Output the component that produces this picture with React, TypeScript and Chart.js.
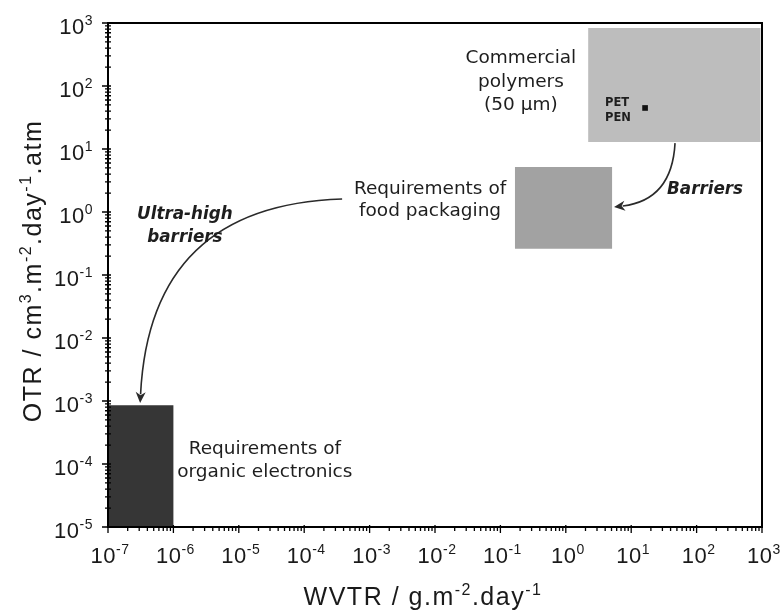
import React, { useEffect, useRef } from 'react';
import { Chart, registerables } from 'chart.js';

Chart.register(...registerables);

// ---- axis ticks (decade exponents) ----
const xExponents = [-7, -6, -5, -4, -3, -2, -1, 0, 1, 2, 3];
const yExponents = [-5, -4, -3, -2, -1, 0, 1, 2, 3];

// ---- axis titles (text, superscript) segments ----
const xTitle = [
  ['WVTR / g.m', false],
  ['-2', true],
  ['.day', false],
  ['-1', true],
];
const yTitle = [
  ['OTR / cm', false],
  ['3', true],
  ['.m', false],
  ['-2', true],
  ['.day', false],
  ['-1', true],
  ['.atm', false],
];

// ---- regions: [xMin, xMax, yMin, yMax] in data units ----
const commercialPolymers = [2.2, 950, 12.9, 835];
const foodPackaging = [0.167, 5.1, 0.26, 5.2];
const organicElectronics = [1e-7, 1e-6, 1e-5, 8.6e-4];

// ---- PET / PEN point ----
const petPenX = [16.3];
const petPenY = [44.8];

// ---- arrows: start, control, end (data units) ----
const barriersArrow = [
  [46.8, 12.4],
  [42, 1.55],
  [5.46, 1.2],
];
const ultraArrow = [
  [3.8e-4, 1.61],
  [4.4e-7, 1.29],
  [3.1e-7, 9.3e-4],
];

// ---- text labels ----
const commercialText = ['Commercial', 'polymers', '(50 \u00b5m)'];
const petPenText = ['PET', 'PEN'];
const foodText = ['Requirements of', 'food packaging'];
const barriersText = ['Barriers'];
const ultraText = ['Ultra-high', 'barriers'];
const organicText = ['Requirements of', 'organic electronics'];

const rectPoly = (r: number[]) => [
  { x: r[0], y: r[2] },
  { x: r[1], y: r[2] },
  { x: r[1], y: r[3] },
  { x: r[0], y: r[3] },
  { x: r[0], y: r[2] },
];

const ANNOT_FONT = '"DejaVu Sans", Verdana, sans-serif';
const AXIS_FONT = '"Liberation Sans", Arial, sans-serif';

const annotations = [
  { lines: commercialText, x: 0.206, y: 116, align: 'center', font: `18.5px ${ANNOT_FONT}`, lh: 23.5 },
  { lines: petPenText, x: 3.98, y: 40.8, align: 'left', font: `bold 11.5px ${ANNOT_FONT}`, lh: 15 },
  { lines: foodText, x: 8.4e-3, y: 1.55, align: 'center', font: `18.5px ${ANNOT_FONT}`, lh: 22 },
  { lines: barriersText, x: 35.3, y: 2.23, align: 'left', font: `italic bold 16.8px ${ANNOT_FONT}`, lh: 20 },
  { lines: ultraText, x: 1.5e-6, y: 0.589, align: 'center', font: `italic bold 16.8px ${ANNOT_FONT}`, lh: 23 },
  { lines: organicText, x: 2.5e-5, y: 1.14e-4, align: 'center', font: `18.5px ${ANNOT_FONT}`, lh: 23 },
];

const arrows = [barriersArrow, ultraArrow];

// draws text made of normal / superscript segments
function drawRich(
  ctx: CanvasRenderingContext2D,
  segs: any[],
  x: number,
  y: number,
  align: 'left' | 'center' | 'right',
  mainSize: number,
  supSize: number,
  rise: number,
  spacing: number
) {
  const fonts = segs.map((s) => `${s[1] ? supSize : mainSize}px ${AXIS_FONT}`);
  (ctx as any).letterSpacing = `${spacing}px`;
  const widths = segs.map((s, i) => {
    ctx.font = fonts[i];
    return ctx.measureText(s[0]).width;
  });
  const total = widths.reduce((a, b) => a + b, 0);
  let cx = align === 'left' ? x : align === 'center' ? x - total / 2 : x - total;
  ctx.textAlign = 'left';
  ctx.textBaseline = 'alphabetic';
  segs.forEach((s, i) => {
    ctx.font = fonts[i];
    ctx.fillText(s[0], cx, s[1] ? y - rise : y);
    cx += widths[i];
  });
  (ctx as any).letterSpacing = '0px';
}

const decorPlugin = {
  id: 'decor',
  afterDatasetsDraw(chart: any) {
    const { ctx, scales } = chart;
    const xs = scales.x;
    const ys = scales.y;
    ctx.save();
    // arrows
    arrows.forEach((a) => {
      const p = a.map(([vx, vy]) => [xs.getPixelForValue(vx), ys.getPixelForValue(vy)]);
      const ang = Math.atan2(p[2][1] - p[1][1], p[2][0] - p[1][0]);
      const headLen = 11;
      const headW = 5;
      const bx = p[2][0] - Math.cos(ang) * headLen * 0.8;
      const by = p[2][1] - Math.sin(ang) * headLen * 0.8;
      ctx.strokeStyle = '#2a2a2a';
      ctx.lineWidth = 1.6;
      ctx.beginPath();
      ctx.moveTo(p[0][0], p[0][1]);
      ctx.quadraticCurveTo(p[1][0], p[1][1], bx, by);
      ctx.stroke();
      ctx.fillStyle = '#2a2a2a';
      ctx.beginPath();
      ctx.moveTo(p[2][0], p[2][1]);
      ctx.lineTo(
        p[2][0] - Math.cos(ang) * headLen - Math.sin(ang) * headW,
        p[2][1] - Math.sin(ang) * headLen + Math.cos(ang) * headW
      );
      ctx.lineTo(p[2][0] - Math.cos(ang) * headLen * 0.7, p[2][1] - Math.sin(ang) * headLen * 0.7);
      ctx.lineTo(
        p[2][0] - Math.cos(ang) * headLen + Math.sin(ang) * headW,
        p[2][1] - Math.sin(ang) * headLen - Math.cos(ang) * headW
      );
      ctx.closePath();
      ctx.fill();
    });
    // texts
    annotations.forEach((t) => {
      const cx = xs.getPixelForValue(t.x);
      const cy = ys.getPixelForValue(t.y);
      ctx.font = t.font;
      ctx.fillStyle = '#1e1e1e';
      ctx.textAlign = t.align;
      ctx.textBaseline = 'middle';
      const n = t.lines.length;
      t.lines.forEach((line: string, i: number) => {
        ctx.fillText(line, cx, cy + (i - (n - 1) / 2) * t.lh);
      });
    });
    ctx.restore();
  },
  afterDraw(chart: any) {
    const { ctx, chartArea, scales } = chart;
    const xs = scales.x;
    const ys = scales.y;
    ctx.save();
    ctx.strokeStyle = '#000';
    ctx.lineWidth = 2;
    ctx.strokeRect(chartArea.left, chartArea.top, chartArea.right - chartArea.left, chartArea.bottom - chartArea.top);
    ctx.lineWidth = 1.3;
    ctx.beginPath();
    // x ticks
    for (let i = 0; i < xExponents.length; i++) {
      const e = xExponents[i];
      const px = xs.getPixelForValue(Math.pow(10, e));
      ctx.moveTo(px, chartArea.bottom - 2);
      ctx.lineTo(px, chartArea.bottom + 6);
      if (i < xExponents.length - 1) {
        for (let k = 2; k <= 9; k++) {
          const mx = xs.getPixelForValue(k * Math.pow(10, e));
          ctx.moveTo(mx, chartArea.bottom);
          ctx.lineTo(mx, chartArea.bottom + 4);
        }
      }
    }
    // y ticks
    for (let i = 0; i < yExponents.length; i++) {
      const e = yExponents[i];
      const py = ys.getPixelForValue(Math.pow(10, e));
      ctx.moveTo(chartArea.left - 6, py);
      ctx.lineTo(chartArea.left + 3, py);
      if (i < yExponents.length - 1) {
        for (let k = 2; k <= 9; k++) {
          const my = ys.getPixelForValue(k * Math.pow(10, e));
          ctx.moveTo(chartArea.left - 3, my);
          ctx.lineTo(chartArea.left + 3, my);
        }
      }
    }
    ctx.stroke();

    // tick labels: 10 with superscript exponent
    ctx.fillStyle = '#1a1a1a';
    xExponents.forEach((e) => {
      const px = xs.getPixelForValue(Math.pow(10, e));
      drawRich(ctx, [['10', false], [String(e), true]], px + 2, chartArea.bottom + 36, 'center', 22, 14, 9, 0.5);
    });
    yExponents.forEach((e) => {
      const py = ys.getPixelForValue(Math.pow(10, e));
      drawRich(ctx, [['10', false], [String(e), true]], chartArea.left - 15, py + 11, 'right', 22, 14, 9, 0.5);
    });

    // axis titles
    ctx.fillStyle = '#1a1a1a';
    drawRich(ctx, xTitle, (chartArea.left + chartArea.right) / 2 - 12, 605, 'center', 25, 16, 10, 1.5);
    ctx.save();
    ctx.translate(41, (chartArea.top + chartArea.bottom) / 2 - 4);
    ctx.rotate(-Math.PI / 2);
    drawRich(ctx, yTitle, 0, 0, 'center', 25, 16, 10, 1.5);
    ctx.restore();

    ctx.restore();
  },
};

export default function App() {
  const ref = useRef<HTMLCanvasElement | null>(null);

  useEffect(() => {
    if (!ref.current) return;
    const chart = new Chart(ref.current, {
      type: 'scatter',
      data: {
        datasets: [
          {
            label: 'PET / PEN',
            data: petPenX.map((x, i) => ({ x, y: petPenY[i] })),
            pointStyle: 'rect',
            pointRadius: 4,
            backgroundColor: '#111',
            borderColor: '#111',
            borderWidth: 0,
            order: -1,
          },
          {
            label: 'Commercial polymers',
            data: rectPoly(commercialPolymers),
            showLine: true,
            fill: 'shape',
            backgroundColor: '#bdbdbd',
            borderWidth: 0,
            pointRadius: 0,
            order: 1,
          },
          {
            label: 'Food packaging',
            data: rectPoly(foodPackaging),
            showLine: true,
            fill: 'shape',
            backgroundColor: '#a2a2a2',
            borderWidth: 0,
            pointRadius: 0,
            order: 1,
          },
          {
            label: 'Organic electronics',
            data: rectPoly(organicElectronics),
            showLine: true,
            fill: 'shape',
            backgroundColor: '#363636',
            borderWidth: 0,
            pointRadius: 0,
            order: 1,
          },
        ] as any,
      },
      options: {
        animation: false,
        responsive: false,
        layout: { padding: { top: 23, right: 19, left: 0, bottom: 0 } },
        plugins: { legend: { display: false }, tooltip: { enabled: false } },
        scales: {
          x: {
            type: 'logarithmic',
            min: 1e-7,
            max: 1e3,
            afterBuildTicks: (scale: any) => {
              scale.ticks = xExponents.map((e) => ({ value: Math.pow(10, e) }));
            },
            afterFit: (scale: any) => {
              scale.height = 88;
            },
            ticks: { display: false, autoSkip: false },
            grid: { display: true, drawOnChartArea: false, drawTicks: false },
            border: { display: true, color: '#000', width: 2 },
            title: { display: false },
          },
          y: {
            type: 'logarithmic',
            min: 1e-5,
            max: 1e3,
            afterBuildTicks: (scale: any) => {
              scale.ticks = yExponents.map((e) => ({ value: Math.pow(10, e) }));
            },
            afterFit: (scale: any) => {
              scale.width = 108;
            },
            ticks: { display: false, autoSkip: false },
            grid: { display: true, drawOnChartArea: false, drawTicks: false },
            border: { display: true, color: '#000', width: 2 },
            title: { display: false },
          },
        },
      } as any,
      plugins: [decorPlugin],
    });
    return () => chart.destroy();
  }, []);

  return (
    <div style={{ position: 'fixed', left: 0, top: 0, width: 781, height: 615, background: '#fff' }}>
      <canvas ref={ref} width={781} height={615} style={{ display: 'block' }} />
    </div>
  );
}
